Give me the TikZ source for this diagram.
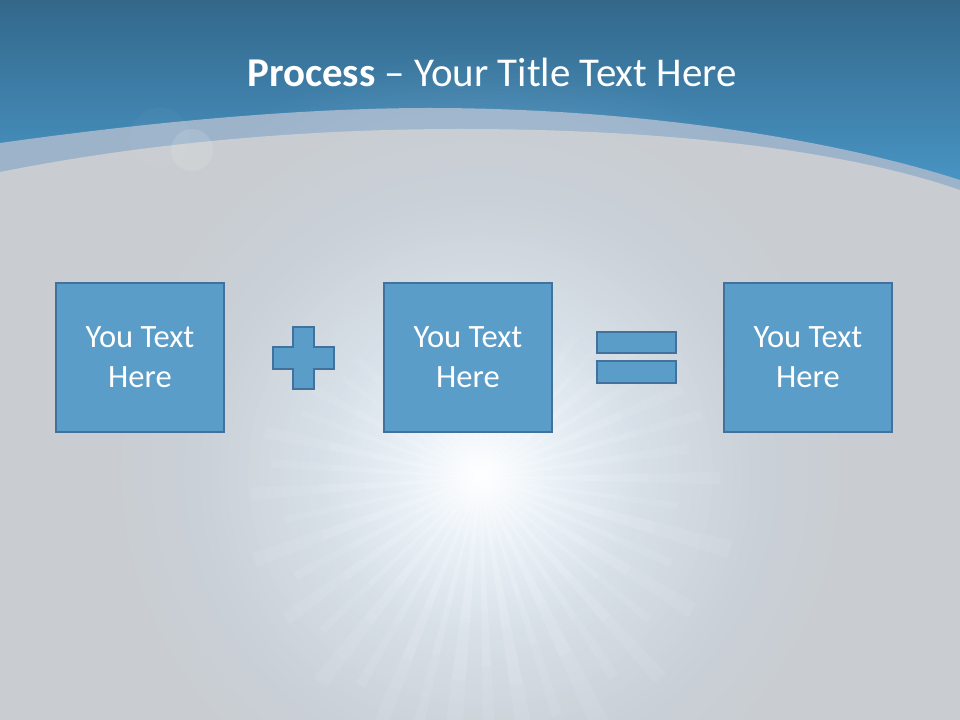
\documentclass[tikz,border=0pt]{standalone}
\usepackage{fontspec}
\setmainfont{Carlito}
\usetikzlibrary{fadings}
\pgfdeclareradialshading{glowshade}{\pgfpoint{0bp}{0bp}}{color(0bp)=(white); color(5bp)=(white!62!black); color(12bp)=(white!25!black); color(22bp)=(black); color(50bp)=(black)}
\pgfdeclarefading{glowfade}{\pgfuseshading{glowshade}}
\definecolor{bgray}{RGB}{201,204,208}
\definecolor{topdark}{RGB}{51,103,138}
\definecolor{topmid}{RGB}{74,153,202}
\definecolor{bandc}{RGB}{156,179,202}
\definecolor{boxfill}{RGB}{91,157,201}
\definecolor{boxedge}{RGB}{65,113,156}
\definecolor{glowblue}{RGB}{205,228,246}
\definecolor{raycol}{RGB}{240,247,253}
\begin{document}
\begin{tikzpicture}[x=0.75pt,y=-0.75pt,
  ybox/.style={draw=boxedge, line width=1.9pt, fill=boxfill, minimum width=126pt,
    minimum height=111.75pt, inner sep=0pt, text=white, align=center,
    font=\fontsize{24.4}{30}\selectfont},
  sym/.style={draw=boxedge, line width=1.9pt, fill=boxfill},
  ray/.style={raycol, fill opacity=0.085}]
\useasboundingbox (0,0) rectangle (960,720);
% background
\fill[bgray] (0,0) rectangle (960,720);
\shade[top color=topdark, bottom color=topmid] (0,0) rectangle (960,200);
\fill[bandc] (0,143) .. controls (150,122) and (300,108) .. (430,108)
  .. controls (620,108) and (820,135) .. (960,180) -- (960,720) -- (0,720) -- cycle;
\fill[bgray] (0,172) .. controls (150,142) and (310,129) .. (460,129)
  .. controls (640,129) and (830,145) .. (960,190) -- (960,720) -- (0,720) -- cycle;
% lens flare
\fill[white, fill opacity=0.12] (192,150) circle (21);
\fill[white, fill opacity=0.03] (160,138) circle (30);
% glow
\fill[glowblue, path fading=glowfade] (480,470) circle (480);
\begin{scope}[shift={(480,478)}]
  \foreach \a/\l/\w in {0/240/1.5,8/200/1,16/260/2,24/210/1.2,32/250/1.8,40/220/1,48/270/1.6,56/240/1.2,
      64/280/2,72/250/1.2,80/300/1.8,88/270/1.4,96/290/2,104/260/1.2,112/280/1.6,120/240/1.2,
      128/260/1.8,136/220/1,144/240/1.6,152/210/1.2,160/240/1.8,168/200/1,176/230/1.6,184/210/1.2,
      192/220/1.6,200/190/1,208/200/1.4,216/170/1,224/170/1.4,232/150/1,240/150/1.2,248/140/1,
      256/140/1.2,264/130/1,272/140/1.2,280/140/1,288/150/1.2,296/160/1,304/170/1.4,312/190/1,
      320/200/1.6,328/210/1.2,336/220/1.6,344/230/1.2,352/210/1.4} {
    \foreach \f in {0.2,0.35,0.5,0.7,1.0} {
      \fill[ray] (0,0) -- (\a-\w:\f*\l) -- (\a+\w:\f*\l) -- cycle;
    }
  }
\end{scope}
\fill[white, path fading=glowfade] (480,475) circle (330);
% title
\node[anchor=base, text=white, font=\fontsize{30.7}{36}\selectfont] (title) at (492,87)
  {\textbf{Process} – Your Title Text Here};
% boxes
\node[ybox] (b1) at (140,357.5) {You Text\\Here};
\node[ybox] (b2) at (468,357.5) {You Text\\Here};
\node[ybox] (b3) at (808,357.5) {You Text\\Here};
% plus
\path[sym] (293,327) -- (314,327) -- (314,347) -- (334,347) -- (334,369) -- (314,369)
  -- (314,389) -- (293,389) -- (293,369) -- (273,369) -- (273,347) -- (293,347) -- cycle;
% equals
\path[sym] (597,332) rectangle (676,353);
\path[sym] (597,361) rectangle (676,383);
\end{tikzpicture}
\end{document}
